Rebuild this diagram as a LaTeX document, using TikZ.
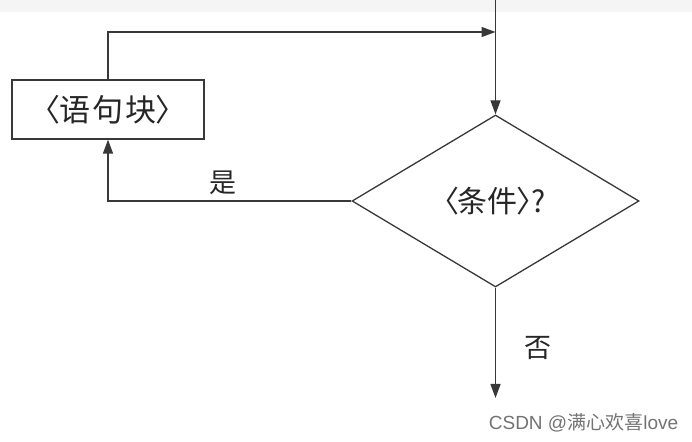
\documentclass[tikz,border=0pt]{standalone}
\usepackage{fontspec}
\setmainfont{Liberation Sans}
\newfontfamily\cjk{Noto Sans CJK SC}
\newcommand{\lbr}{\hspace*{-0.55em}〈\hspace*{-0.05em}}
\newcommand{\rbr}{\hspace*{-0.05em}〉\hspace*{-0.55em}}
\usetikzlibrary{arrows.meta,shapes.geometric}
\begin{document}
\begin{tikzpicture}[x=1pt,y=1pt,
  line/.style={draw=black!78,line width=1.3pt},
  arr/.style={line,-{Triangle[length=14pt,width=10pt]}},
  lbl/.style={font=\cjk\fontsize{27}{29}\selectfont,text=black!85,inner sep=0pt}]
\useasboundingbox (0,0) rectangle (692,441);
\fill[black!4] (0,429) rectangle (692,441);
\node[line,rectangle,minimum width=192pt,minimum height=59pt,inner sep=0pt,
  font=\cjk\fontsize{31}{33}\selectfont,text=black!85] (block) at (108,331.5) {\lbr 语\hspace{0.08em}句\hspace{0.08em}块\rbr};
\node[line,diamond,minimum width=287pt,minimum height=172pt,inner sep=0pt,
  font=\cjk\fontsize{30}{32}\selectfont,text=black!85] (cond) at (495.5,240) {\lbr 条件\rbr\hspace{0.05em}?};
\coordinate (top) at (495.5,441);
\coordinate (join) at (495.5,409);
\coordinate (endpt) at (495.5,43);
\draw[arr] (top) -- (cond.north);
\draw[arr] (block.north) |- (join);
\draw[arr] (cond.west) -| (block.south);
\draw[arr] (cond.south) -- (endpt);
\node[lbl] (yes) at (223,258) {是};
\node[lbl] (no) at (538,93) {否};
\node[font=\fontsize{19}{21}\selectfont,text=black!55,inner sep=0pt] (wm) at (583.5,18) {CSDN @{\cjk 满心欢喜}love};
\end{tikzpicture}
\end{document}
